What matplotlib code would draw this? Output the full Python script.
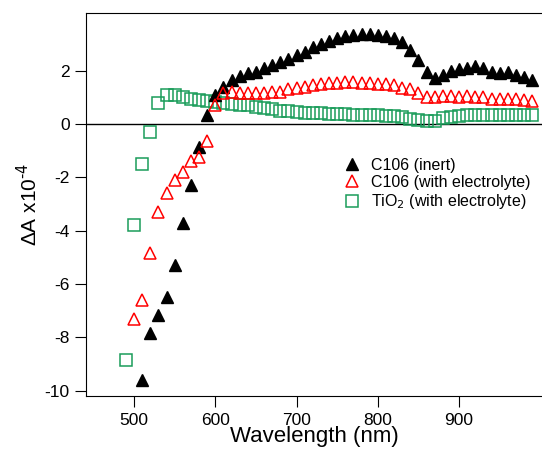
import numpy as np
import matplotlib.pyplot as plt

plt.rcParams['font.family'] = ['Liberation Sans', 'DejaVu Sans']
plt.rcParams['axes.unicode_minus'] = False

# C106 (inert)
wl_inert = list(range(510, 1000, 10))
dA_inert = [-9.6, -7.85, -7.15, -6.5, -5.3, -3.7, -2.3, -0.85, 0.35, 1.1,
            1.39, 1.65, 1.8, 1.9, 1.95, 2.1, 2.2, 2.33, 2.44, 2.59,
            2.7, 2.89, 3.0, 3.1, 3.2, 3.28, 3.33, 3.38, 3.38, 3.33,
            3.28, 3.2, 3.08, 2.78, 2.4, 1.95, 1.72, 1.84, 2.0, 2.05,
            2.1, 2.15, 2.1, 1.95, 1.9, 1.95, 1.85, 1.75, 1.65]

# C106 (with electrolyte)
wl_elec = list(range(500, 1000, 10))
dA_elec = [-7.3, -6.6, -4.85, -3.3, -2.6, -2.1, -1.8, -1.4, -1.25, -0.65,
           0.7, 1.15, 1.2, 1.15, 1.15, 1.15, 1.15, 1.2, 1.2, 1.3,
           1.35, 1.4, 1.45, 1.5, 1.55, 1.55, 1.58, 1.58, 1.55, 1.55,
           1.5, 1.5, 1.45, 1.35, 1.3, 1.15, 1.0, 1.0, 1.05, 1.05,
           1.0, 1.05, 1.0, 1.0, 0.95, 0.95, 0.95, 0.95, 0.9, 0.85]

# TiO2 (with electrolyte)
wl_tio2 = list(range(490, 1000, 10))
dA_tio2 = [-8.85, -3.8, -1.5, -0.3, 0.8, 1.1, 1.1, 1.0, 0.95, 0.9,
           0.85, 0.82, 0.8, 0.75, 0.72, 0.7, 0.65, 0.6, 0.55, 0.5,
           0.48, 0.45, 0.42, 0.4, 0.4, 0.38, 0.37, 0.36, 0.35, 0.35,
           0.33, 0.32, 0.3, 0.28, 0.25, 0.2, 0.15, 0.12, 0.12, 0.22,
           0.27, 0.3, 0.32, 0.33, 0.33, 0.33, 0.33, 0.33, 0.33, 0.33, 0.33]

fig = plt.figure(figsize=(5.42, 4.59), dpi=100)
ax = fig.add_axes([0.159, 0.137, 0.841, 0.835])

ax.axhline(0, color='black', lw=1, zorder=1)
ax.plot(wl_inert, dA_inert, '^', color='black', ms=9, ls='none', label='C106 (inert)', zorder=3)
ax.plot(wl_elec, dA_elec, '^', mfc='none', mec='#ff0000', mew=1.1, ms=9, ls='none',
        label='C106 (with electrolyte)', zorder=3)
ax.plot(wl_tio2, dA_tio2, 's', mfc='none', mec='#1a9c5a', mew=1.1, ms=8, ls='none',
        label='TiO$_2$ (with electrolyte)', zorder=2)

ax.set_xlim(441, 1002)
ax.set_ylim(-10.2, 4.16)
ax.set_xticks([500, 600, 700, 800, 900])
ax.set_yticks([-10, -8, -6, -4, -2, 0, 2])
ax.spines['right'].set_visible(False)
ax.tick_params(direction='out', length=8, labelsize=12.5, pad=4)
ax.set_xlabel('Wavelength (nm)', fontsize=16, labelpad=-1)
ax.set_ylabel(r'ΔA x10$^{\text{-}4}$', fontsize=15, labelpad=2)

ax.legend(loc='upper left', bbox_to_anchor=(0.53, 0.66), frameon=False, fontsize=11.5,
          handletextpad=0.6, labelspacing=0.15, handlelength=1.2)

fig.savefig('out.png', dpi=100)
